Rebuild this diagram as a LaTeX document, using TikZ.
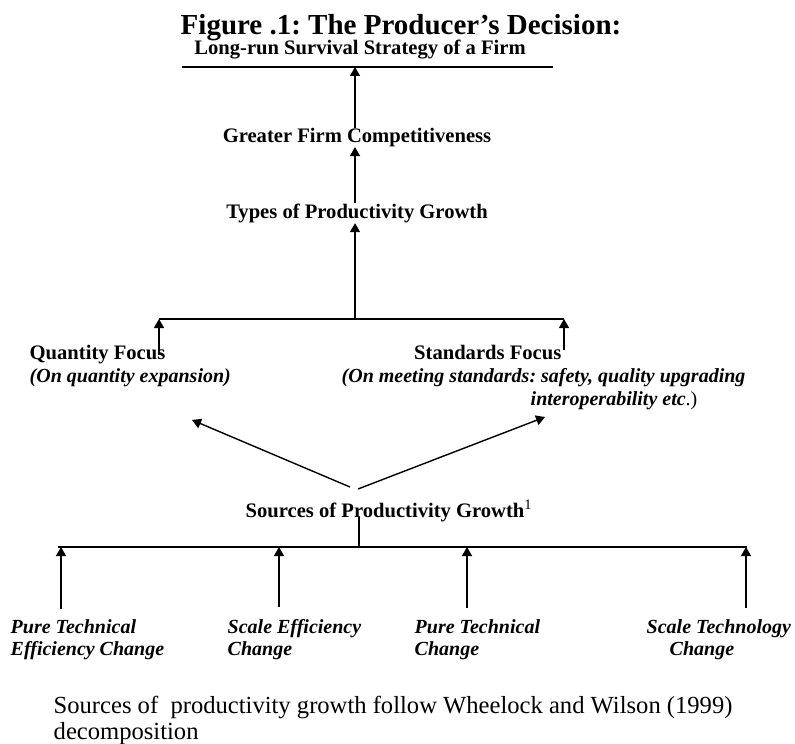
\documentclass[tikz,border=0pt]{standalone}
\usepackage{fontspec}
\setmainfont{Liberation Serif}
\usetikzlibrary{arrows.meta,positioning}
\frenchspacing

\begin{document}
\begin{tikzpicture}[x=0.5pt,y=-0.5pt,>={Triangle[length=4.5pt,width=5pt]},line width=0.7pt,
  lbl/.style={font=\fontsize{10.3}{12}\selectfont\bfseries,inner sep=0pt},
  sub/.style={font=\fontsize{10}{12}\selectfont\bfseries\itshape,inner sep=0pt},
  bar/.style={line width=0.6pt}]
\useasboundingbox (0,0) rectangle (795,743);
\node[font=\fontsize{14.5}{16}\selectfont\bfseries,inner sep=0pt,anchor=base] (title) at (401,35) {Figure .1: The Producer’s Decision:};
\node[lbl,anchor=base] (surv) at (360,55) {Long-run Survival Strategy of a Firm};
\coordinate (sl) at (182,67);
\coordinate (sr) at (553,67);
\draw[bar] (sl) -- (sr);
\node[lbl,anchor=base] (comp) at (357,142) {Greater Firm Competitiveness};
\node[lbl,anchor=base] (types) at (357,218) {Types of Productivity Growth};
\draw[->] (355,128) coordinate (c1) -- (c1 |- sl);
\draw[->] (types.north -| c1) -- (comp.south -| c1);

\coordinate (ql) at (159,319);
\coordinate (qm) at (355,319);
\coordinate (qr) at (564,319);
\draw[bar] (ql) -- (qr);
\draw[->] (qm) -- (types.south -| qm);
\node[lbl,anchor=base west] (qty) at (29,359) {Quantity Focus};
\node[sub,anchor=base west] (qtyx) at (29,382) {(On quantity expansion)};
\node[lbl,anchor=base east] (std) at (562,359) {Standards Focus};
\node[sub,anchor=base west] (stdx) at (341,382) {(On meeting standards: safety, quality upgrading};
\node[sub,anchor=base west] (stdy) at (530,405) {interoperability etc\upshape\mdseries.)};
\draw[->] (159,355) -- (ql);
\draw[->] (564,350) -- (qr);

\node[lbl,anchor=base west] (src) at (245,517) {Sources of Productivity Growth\textsuperscript{\mdseries 1}};
\coordinate (d1) at (350,487);
\coordinate (d2) at (358,489);
\draw[->] (d1) -- (192,420) coordinate (qa);
\draw[->] (d2) -- (545,417) coordinate (sa);

\coordinate (bm) at (359,547);
\coordinate (bl) at (58,547);
\coordinate (br) at (747,547);
\draw[bar] (bl) -- (br);
\draw[bar] (359,517) -- (bm);
\draw[->] (61,609) -- (61,547);
\draw[->] (279,607) -- (279,547);
\draw[->] (467,608) -- (467,547);
\draw[->] (746,608) -- (746,547);
\node[sub,anchor=base west] (pte) at (10,633) {Pure Technical};
\node[sub,anchor=base west] (ptex) at (10,655) {Efficiency Change};
\node[sub,anchor=base west] (sec) at (227,633) {Scale Efficiency};
\node[sub,anchor=base west] (secx) at (227,655) {Change};
\node[sub,anchor=base west] (ptc) at (414,633) {Pure Technical};
\node[sub,anchor=base west] (ptcx) at (414,655) {Change};
\node[sub,anchor=base west] (stc) at (646,633) {Scale Technology};
\node[sub,anchor=base west] (stcx) at (669,655) {Change};

\node[font=\fontsize{12.3}{13}\selectfont,inner sep=0pt,anchor=base west] (note) at (53,713) {Sources of\ \ productivity growth follow Wheelock and Wilson (1999)};
\node[font=\fontsize{12.3}{13}\selectfont,inner sep=0pt,anchor=base west] (notex) at (53,739) {decomposition};
\end{tikzpicture}
\end{document}
